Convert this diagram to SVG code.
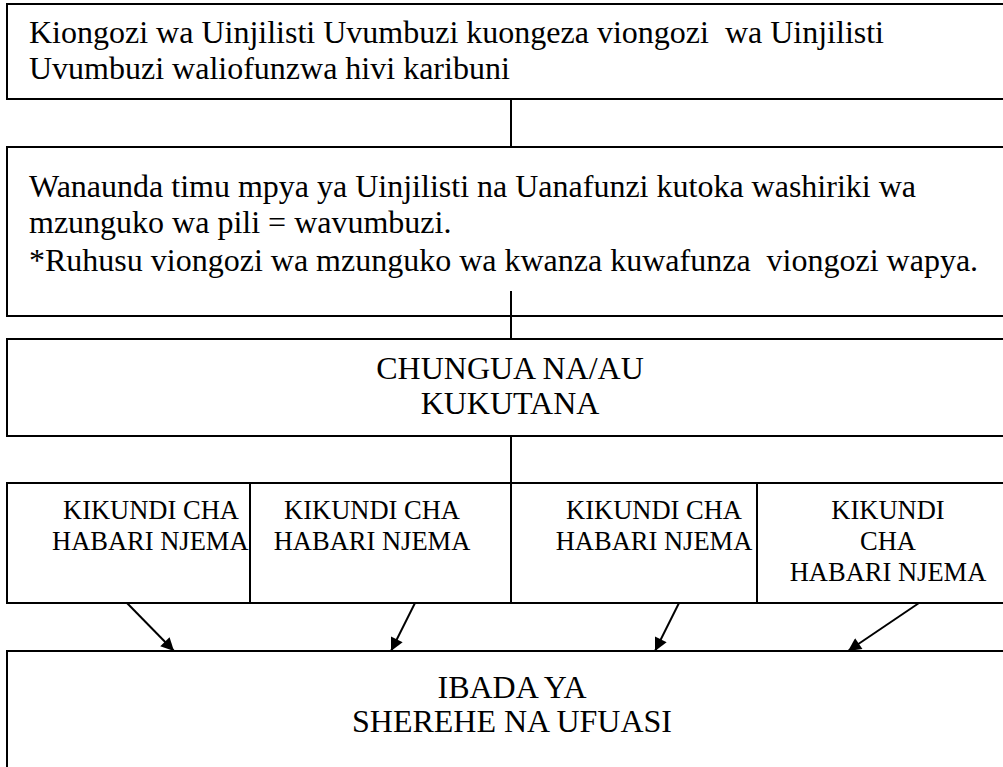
<svg xmlns="http://www.w3.org/2000/svg" width="1003" height="767" viewBox="0 0 1003 767">
<style>
.box{fill:#fff;stroke:#000;stroke-width:2}
.t{font-family:"Liberation Serif","Times New Roman",serif;font-size:32px;fill:#000;white-space:pre}
.s{font-size:26.5px}
.c{text-anchor:middle}
.ln{stroke:#000;stroke-width:2;fill:none}
</style>
<defs>
<marker id="ah" viewBox="0 0 10 10" refX="10" refY="5" markerWidth="7.5" markerHeight="6.5" markerUnits="strokeWidth" orient="auto">
<path d="M0,0 L10,5 L0,10 z" fill="#000"/>
</marker>
</defs>
<rect width="1003" height="767" fill="#fff"/>
<g id="n1">
<rect class="box" x="7" y="4" width="1010" height="95"/>
<text class="t" x="29" y="43">Kiongozi wa Uinjilisti Uvumbuzi kuongeza viongozi  wa Uinjilisti</text>
<text class="t" x="29" y="79">Uvumbuzi waliofunzwa hivi karibuni</text>
</g>
<g id="n2">
<rect class="box" x="7" y="147" width="1010" height="169"/>
<text class="t" x="29" y="197">Wanaunda timu mpya ya Uinjilisti na Uanafunzi kutoka washiriki wa</text>
<text class="t" x="29" y="233">mzunguko wa pili = wavumbuzi.</text>
<text class="t" x="29" y="271">*Ruhusu viongozi wa mzunguko wa kwanza kuwafunza  viongozi wapya.</text>
</g>
<g id="n3">
<rect class="box" x="7" y="339" width="1010" height="97"/>
<text class="t c" x="510" y="379">CHUNGUA NA/AU</text>
<text class="t c" x="510" y="414">KUKUTANA</text>
</g>
<g id="g1">
<rect class="box" x="7" y="483" width="243" height="120"/>
<text class="t s" x="63" y="519">KIKUNDI CHA</text>
<text class="t s" x="52" y="550">HABARI NJEMA</text>
</g>
<g id="g2">
<rect class="box" x="250" y="483" width="261" height="120"/>
<text class="t s c" x="372" y="519">KIKUNDI CHA</text>
<text class="t s c" x="372" y="550">HABARI NJEMA</text>
</g>
<g id="g3">
<rect class="box" x="511" y="483" width="246" height="120"/>
<text class="t s c" x="654" y="519">KIKUNDI CHA</text>
<text class="t s c" x="654" y="550">HABARI NJEMA</text>
</g>
<g id="g4">
<rect class="box" x="757" y="483" width="260" height="120"/>
<text class="t s c" x="888" y="519">KIKUNDI</text>
<text class="t s c" x="888" y="550">CHA</text>
<text class="t s c" x="888" y="581">HABARI NJEMA</text>
</g>
<g id="n4">
<rect class="box" x="7" y="651" width="1010" height="130"/>
<text class="t c" x="512" y="698">IBADA YA</text>
<text class="t c" x="512" y="732">SHEREHE NA UFUASI</text>
</g>
<g id="connectors">
<line class="ln" x1="511" y1="99" x2="511" y2="147"/>
<line class="ln" x1="511" y1="291" x2="511" y2="339"/>
<line class="ln" x1="511" y1="436" x2="511" y2="483"/>
<line class="ln" x1="127" y1="603" x2="174" y2="651" marker-end="url(#ah)"/>
<line class="ln" x1="415" y1="603" x2="391" y2="651" marker-end="url(#ah)"/>
<line class="ln" x1="679" y1="603" x2="655" y2="651" marker-end="url(#ah)"/>
<line class="ln" x1="919" y1="603" x2="848" y2="651" marker-end="url(#ah)"/>
</g>
</svg>
